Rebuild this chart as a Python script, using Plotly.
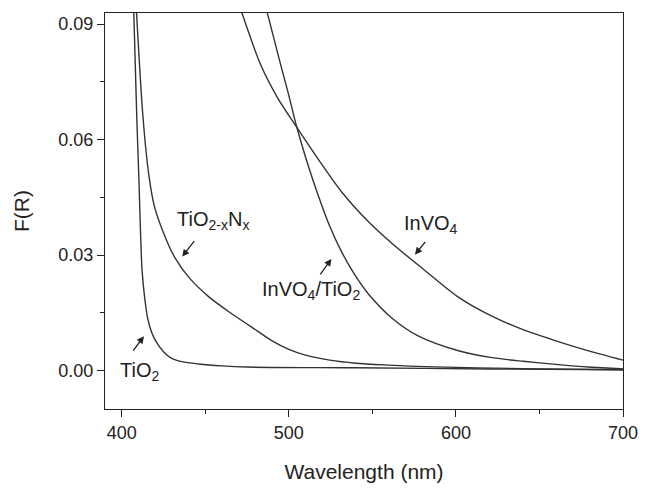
import plotly.graph_objects as go

# Wavelength (nm) / F(R)
tio2_x = [407.2, 409.0, 410.2, 412.2, 414.0, 415.6, 418.0, 420.6, 425.0, 429.4, 436.0, 446.0, 460.0, 475.0, 540.0, 620.0, 700.0]
tio2_y = [0.0935, 0.0660, 0.0509, 0.0259, 0.0180, 0.0134, 0.0098, 0.0075, 0.0049, 0.0033, 0.0023, 0.0017, 0.0012, 0.0009, 0.0007, 0.0004, 0.0002]

tion_x = [408.8, 412.7, 416.2, 419.6, 426.5, 432.0, 440.2, 452.0, 465.0, 478.0, 490.0, 500.0, 510.0, 524.5, 540.0, 560.0, 581.0, 640.0, 700.0]
tion_y = [0.0935, 0.0660, 0.0509, 0.0426, 0.0342, 0.0292, 0.0242, 0.0192, 0.0150, 0.0112, 0.0077, 0.0055, 0.0040, 0.0027, 0.0019, 0.0014, 0.0010, 0.0005, 0.0002]

invo4_tio2_x = [486.8, 495.1, 500.0, 504.3, 511.8, 517.6, 524.5, 532.0, 540.0, 548.0, 561.8, 577.4, 601.0, 620.6, 640.2, 659.8, 679.4, 700.0]
invo4_tio2_y = [0.0935, 0.0795, 0.0715, 0.0640, 0.0530, 0.0455, 0.0375, 0.0305, 0.0245, 0.0197, 0.0136, 0.0090, 0.0052, 0.0034, 0.0024, 0.0016, 0.0009, 0.0004]

invo4_x = [471.5, 483.3, 493.1, 504.3, 518.6, 532.4, 548.0, 561.8, 580.0, 601.0, 620.6, 640.2, 659.8, 679.4, 700.0]
invo4_y = [0.0935, 0.0793, 0.0710, 0.0635, 0.0543, 0.0460, 0.0385, 0.0330, 0.0265, 0.0192, 0.0143, 0.0106, 0.0077, 0.0051, 0.0027]

y_ticks = [0.0, 0.03, 0.06, 0.09]
y_tick_text = ["0.00", "0.03", "0.06", "0.09"]
x_ticks = [400, 500, 600, 700]

line_style = dict(color="#333333", width=1.4, shape="spline", smoothing=0.8)

fig = go.Figure()
for xs, ys, name in [(tio2_x, tio2_y, "TiO2"), (tion_x, tion_y, "TiO2-xNx"),
                     (invo4_tio2_x, invo4_tio2_y, "InVO4/TiO2"), (invo4_x, invo4_y, "InVO4")]:
    fig.add_trace(go.Scatter(x=xs, y=ys, mode="lines", name=name, line=line_style,
                             showlegend=False, hoverinfo="x+y"))

font_family = "Liberation Sans, Arial, sans-serif"
axis_common = dict(showline=True, linecolor="#222222", linewidth=1.4, mirror=True,
                   ticks="outside", ticklen=7, tickwidth=1.2, tickcolor="#222222",
                   showgrid=False, zeroline=False,
                   tickfont=dict(family=font_family, size=18, color="#222222"))

fig.update_xaxes(range=[390, 700], tickvals=x_ticks,
                 minor=dict(ticks="outside", ticklen=4, tickwidth=1.2, tickcolor="#222222", dtick=50, tick0=400, showgrid=False),
                 title=dict(text="Wavelength (nm)", font=dict(family=font_family, size=21, color="#222222"), standoff=22),
                 **axis_common)
fig.update_yaxes(range=[-0.0100, 0.0929], tickvals=y_ticks, ticktext=y_tick_text,
                 minor=dict(ticks="outside", ticklen=4, tickwidth=1.2, tickcolor="#222222", dtick=0.015, tick0=0, showgrid=False),
                 title=dict(text="F(R)", font=dict(family=font_family, size=21, color="#222222"), standoff=22),
                 **axis_common)

lab_font = dict(family=font_family, size=20, color="#222222")
labels = [
    ("TiO<sub>2</sub>", 410.8, -0.0002),
    ("TiO<sub>2-x</sub>N<sub>x</sub>", 454.6, 0.0389),
    ("InVO<sub>4</sub>/TiO<sub>2</sub>", 513.1, 0.0209),
    ("InVO<sub>4</sub>", 585.3, 0.0379),
]
for txt, x, y in labels:
    fig.add_annotation(x=x, y=y, text=txt, showarrow=False, font=lab_font,
                       xanchor="center", yanchor="middle")

arrows = [
    ((406.2, 0.0048), (413.3, 0.0089)),
    ((444.1, 0.0340), (436.2, 0.0296)),
    ((518.2, 0.0246), (525.5, 0.0290)),
    ((582.4, 0.0338), (575.5, 0.0301)),
]
for (tx, ty), (hx, hy) in arrows:
    fig.add_annotation(x=hx, y=hy, ax=tx, ay=ty, axref="x", ayref="y", xref="x", yref="y",
                       text="", showarrow=True, arrowhead=2, arrowsize=1.1, arrowwidth=1.3,
                       arrowcolor="#222222", standoff=0, startstandoff=0)

fig.update_layout(width=650, height=491, margin=dict(l=105, r=18, t=13, b=68),
                  plot_bgcolor="white", paper_bgcolor="white",
                  font=dict(family=font_family, color="#222222"))

fig.write_html("out.html", config={"displayModeBar": False},
               post_script="document.body.style.margin='0';")
